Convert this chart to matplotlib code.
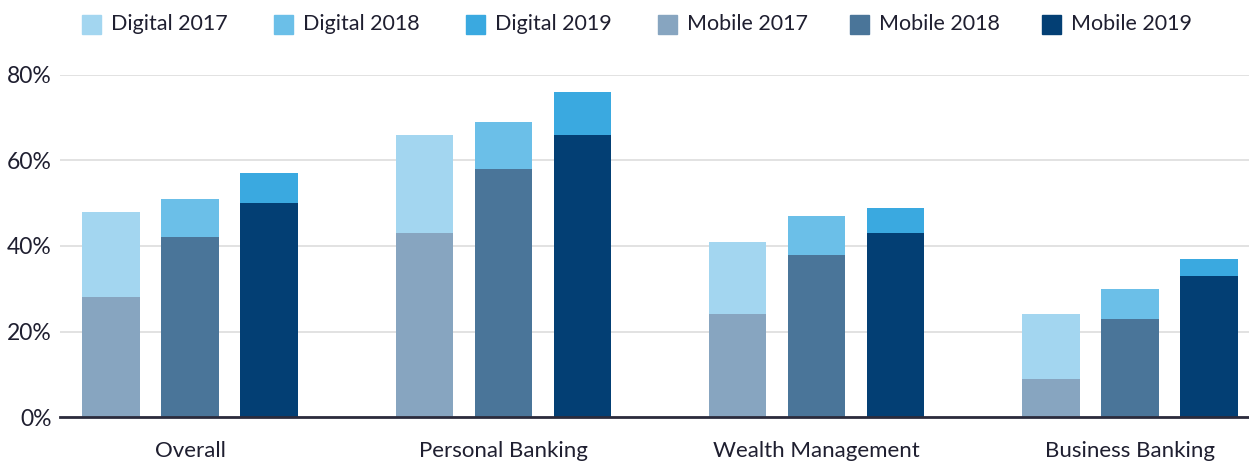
import numpy as np
import matplotlib
matplotlib.use("Agg")
import matplotlib.pyplot as plt
from matplotlib.patches import Rectangle

# данные с картинки
categories = ["Overall", "Personal Banking", "Wealth Management", "Business Banking"]
years = ["2017", "2018", "2019"]
digital = {
    "2017": [48, 66, 41, 24],
    "2018": [51, 69, 47, 30],
    "2019": [57, 76, 49, 37],
}
mobile = {
    "2017": [28, 43, 24, 9],
    "2018": [42, 58, 38, 23],
    "2019": [50, 66, 43, 33],
}
yticks = [0, 20, 40, 60, 80]

digital_colors = {"2017": "#a3d6f0", "2018": "#6bbfe8", "2019": "#3aa9e0"}
mobile_colors = {"2017": "#87a5c0", "2018": "#4a7599", "2019": "#033f74"}
text_color = "#1f1f30"

plt.rcParams['font.family'] = ['Lato', 'DejaVu Sans']

fig = plt.figure(figsize=(12.49, 4.61), dpi=100)
ax = fig.add_axes([60 / 1249, 44 / 461, 1 - 60 / 1249, 342 / 461])

x = np.arange(len(categories))
pitch = 0.252
width = 0.183

for i, yr in enumerate(years):
    pos = x + (i - 1) * pitch
    m = np.array(mobile[yr])
    d = np.array(digital[yr])
    ax.bar(pos, m, width, color=mobile_colors[yr], zorder=2)
    ax.bar(pos, d - m, width, bottom=m, color=digital_colors[yr], zorder=2)

ax.set_xlim(-0.415, 3.38)
ax.set_ylim(0, 80)
ax.set_yticks(yticks)
ax.set_yticklabels([f"{v}%" for v in yticks], fontsize=16.5, color=text_color)
ax.set_xticks(x)
ax.set_xticklabels(categories, fontsize=16, color=text_color)
ax.tick_params(axis='both', length=0)
ax.tick_params(axis='x', pad=17)
ax.tick_params(axis='y', pad=6)
for lbl in ax.get_yticklabels():
    lbl.set_verticalalignment('center_baseline')

ax.grid(axis='y', color='#dddddd', linewidth=1.2, zorder=0)
ax.set_axisbelow(True)
for s in ['top', 'right', 'left']:
    ax.spines[s].set_visible(False)
ax.spines['bottom'].set_color('#2b2b3c')
ax.spines['bottom'].set_linewidth(2)
ax.spines['bottom'].set_zorder(3)

# легенда вручную, колонки равной ширины
labels = [f"Digital {y}" for y in years] + [f"Mobile {y}" for y in years]
colors = [digital_colors[y] for y in years] + [mobile_colors[y] for y in years]
for k, (lab, col) in enumerate(zip(labels, colors)):
    x0 = (82 + k * 192) / 1249
    fig.patches.append(Rectangle((x0, 1 - 34 / 461), 19 / 1249, 19 / 461,
                                 transform=fig.transFigure, color=col))
    fig.text(x0 + 29 / 1249, 1 - 24 / 461, lab, fontsize=15.5, color=text_color,
             va='center', ha='left')

fig.savefig("out.png", dpi=100)
